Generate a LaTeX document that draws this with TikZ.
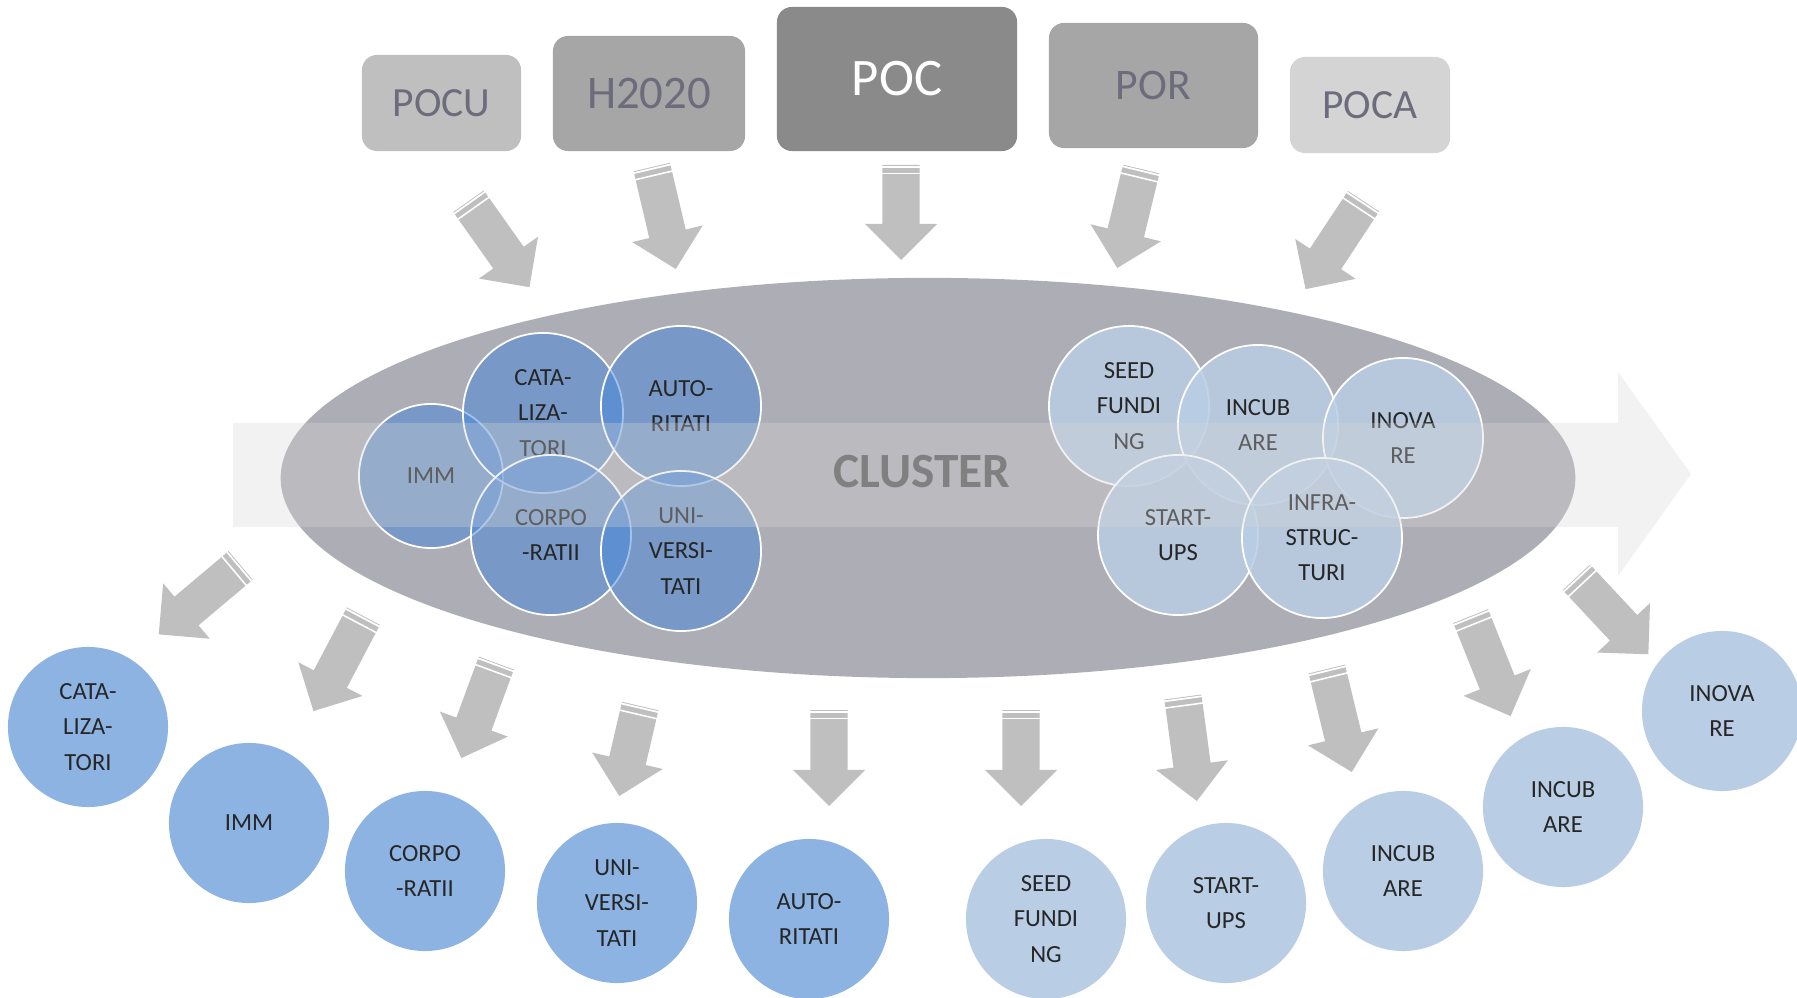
\documentclass[tikz,border=0pt]{standalone}
\usepackage{fontspec}
\setmainfont{Carlito}
\usetikzlibrary{shapes.arrows,calc}

\definecolor{boxtext}{RGB}{108,108,124}
\definecolor{clusterfill}{RGB}{173,173,181}
\definecolor{innerdark}{RGB}{69,134,218}
\definecolor{innerlight}{RGB}{185,205,229}
\definecolor{outerdark}{RGB}{141,179,226}
\definecolor{outerlight}{RGB}{185,205,229}
\definecolor{arrowgray}{RGB}{191,191,191}
\definecolor{flowgray}{RGB}{214,214,214}

\tikzset{
  fatarrow/.style={single arrow, fill=arrowgray, inner sep=0.18cm,
    minimum width=0.71cm,
    single arrow head extend=0.175cm, single arrow tip angle=90,
    sloped, allow upside down, pos=1, anchor=tip},
  ball/.style={circle, minimum size=1.6cm, inner sep=0pt, align=center,
    font=\fontsize{7}{10}\selectfont, text=black!85},
}

\begin{document}
\begin{tikzpicture}[x=0.01cm,y=-0.01cm]

        \useasboundingbox (0,0) rectangle (1797,998);

        \begin{scope}[every node/.style={rounded corners=0.15cm, inner sep=0pt, text=boxtext}]
          \node[fill=black!25, minimum width=1.59cm, minimum height=0.96cm,
                font=\fontsize{11.8}{14}\selectfont] (pocu)  at (441.5,103) {POCU};
          \node[fill=black!35, minimum width=1.92cm, minimum height=1.15cm,
                font=\fontsize{13.3}{16}\selectfont] (h2020) at (649,93.5)  {H2020};
          \node[fill=black!46, minimum width=2.40cm, minimum height=1.44cm, text=white,
                font=\fontsize{15}{18}\selectfont]   (poc)   at (897,79)    {POC};
          \node[fill=black!35, minimum width=2.09cm, minimum height=1.25cm,
                font=\fontsize{12.4}{15}\selectfont] (por)   at (1153.5,85.5) {POR};
          \node[fill=black!17, minimum width=1.60cm, minimum height=0.96cm,
                font=\fontsize{11.8}{14}\selectfont] (poca)  at (1370,105)  {POCA};
        \end{scope}

        \foreach \aname/\tx/\ty/\hx/\hy in {a1/469/202/530/288, a2/652/168/676/270,
            a3/901/166/901/261, a4/1141/170/1117/269, a5/1363/202/1305/290,
            b1/240/566/158/635, b2/363/617/313/712, b3/496/664/461/759,
            b4/640/707/619/797, b5/829/711/829/807, b6/1021/711/1021/807,
            b7/1183/698/1197/802, b8/1327/670/1352/773, b9/1471/617/1511/717,
            b10/1577/578/1649/655} {
          \path let \p1=($(\hx,\hy)-(\tx,\ty)$), \n1={veclen(\x1,\y1)} in
            (\tx,\ty) -- node[fatarrow, minimum height=\n1] (\aname) {} (\hx,\hy);
          \coordinate (s1) at ($(\aname.tail)!0.025cm!(\aname.tip)$);
          \coordinate (s2) at ($(\aname.tail)!0.093cm!(\aname.tip)$);
          \draw[white, line width=0.5pt] ($(s1)!0.2cm!90:(\aname.tip)$) -- ($(s1)!0.2cm!-90:(\aname.tip)$);
          \draw[white, line width=0.45pt] ($(s2)!0.2cm!90:(\aname.tip)$) -- ($(s2)!0.2cm!-90:(\aname.tip)$);
        }

        \fill[clusterfill] (928,478) ellipse [x radius=6.47cm, y radius=2cm];

        \begin{scope}[every node/.style={ball, draw=white, line width=0.5pt,
                      fill=innerdark, fill opacity=0.5, text opacity=1}]
          \node[minimum size=1.44cm] (imm) at (431,476) {IMM};
          \node (cata)  at (543,413) {CATA-\\LIZA-\\TORI};
          \node (auto)  at (681,406) {AUTO-\\RITATI};
          \node (corpo) at (551,535) {CORPO\\-RATII};
          \node (uni)   at (681,551) {UNI-\\VERSI-\\TATI};
        \end{scope}

        \begin{scope}[every node/.style={ball, draw=white, line width=0.5pt,
                      fill=innerlight, fill opacity=0.85, text opacity=1}]
          \node (seed)  at (1129,406) {SEED\\FUNDI\\NG};
          \node (incub) at (1258,425) {INCUB\\ARE};
          \node (inova) at (1403,438) {INOVA\\RE};
          \node (start) at (1178,535) {START-\\UPS};
          \node (infra) at (1322,538) {INFRA-\\STRUC-\\TURI};
        \end{scope}

        \fill[flowgray, fill opacity=0.32] (233,423) -- (1618,423) -- (1618,372) -- (1691,474)
          -- (1618,576) -- (1618,527) -- (233,527) -- cycle;
        \node[text=black!50, font=\fontsize{14}{17}\selectfont\bfseries] (cluster) at (922,472) {CLUSTER};

        \begin{scope}[every node/.style={ball, fill=outerdark}]
          \node (cata2)  at (88,727)  {CATA-\\LIZA-\\TORI};
          \node (imm2)   at (249,823) {IMM};
          \node (corpo2) at (425,871) {CORPO\\-RATII};
          \node (uni2)   at (617,903) {UNI-\\VERSI-\\TATI};
          \node (auto2)  at (809,919) {AUTO-\\RITATI};
        \end{scope}

        \begin{scope}[every node/.style={ball, fill=outerlight}]
          \node (seed2)  at (1046,919) {SEED\\FUNDI\\NG};
          \node (start2) at (1226,903) {START-\\UPS};
          \node (incub2) at (1403,871) {INCUB\\ARE};
          \node (incub3) at (1563,807) {INCUB\\ARE};
          \node (inova2) at (1722,711) {INOVA\\RE};
        \end{scope}

      \end{tikzpicture}
\end{document}
